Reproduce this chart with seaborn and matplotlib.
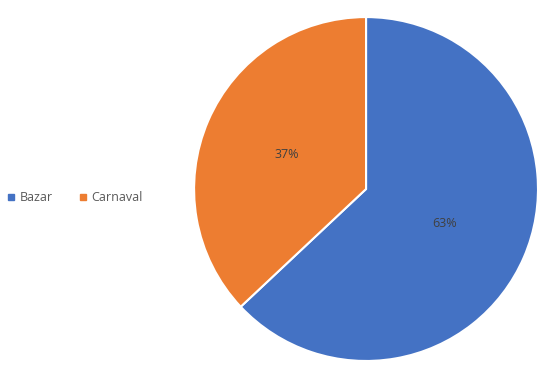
import matplotlib.pyplot as plt
import seaborn as sns
from matplotlib.lines import Line2D

labels = ['Bazar', 'Carnaval']
values = [63, 37]
colors = ['#4472C4', '#ED7D31']

sns.set_theme(style='white')
plt.rcParams['font.family'] = ['Open Sans', 'DejaVu Sans']

fig = plt.figure(figsize=(5.41, 3.71), dpi=100)
ax = fig.add_axes([0.3586, 0.027, 0.636, 0.927])
wedges, texts, autotexts = ax.pie(values, colors=colors, startangle=90, counterclock=False,
                                  autopct='%1.0f%%', pctdistance=0.5,
                                  wedgeprops=dict(edgecolor='white', linewidth=1.5),
                                  textprops=dict(color='#404040', fontsize=9))
ax.set_xlim(-1, 1)
ax.set_ylim(-1, 1)
ax.set_aspect('equal')

handles = [Line2D([0], [0], marker='s', linestyle='', markersize=5, color=c) for c in colors]
fig.legend(handles, labels, loc='center left', bbox_to_anchor=(-0.01, 0.467), ncol=2,
           frameon=False, fontsize=9, handletextpad=0.3, columnspacing=2.0,
           handlelength=0.8, labelcolor='#595959')

fig.savefig('out.png', dpi=100)
